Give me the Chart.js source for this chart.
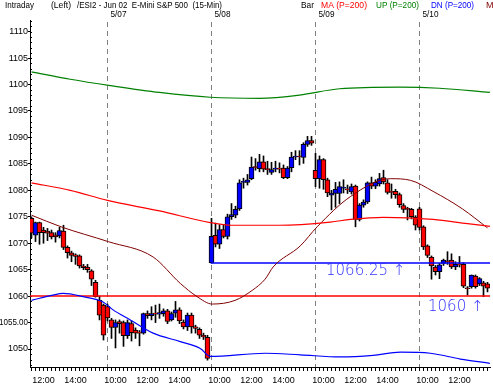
<!DOCTYPE html>
<html>
<head>
<meta charset="utf-8">
<script src="https://cdn.jsdelivr.net/npm/chart.js@4.4.1/dist/chart.umd.min.js"></script>
<style>
  html, body { margin: 0; padding: 0; background: #fff; }
  canvas { display: block; }
</style>
</head>
<body>
<canvas id="chart" width="493" height="387"></canvas>
<script>
// 15-min bars, index 0 = 5/06 11:15 ... 114 = 5/10 14:00
const opens = [
  1074.7, 1071.5, 1073.9, 1072.5, 1072.3, 1072.0, 1071.6, 1071.4, 1072.3, 1069.2, 1068.2, 1067.8, 1067.6, 1065.7, 1065.5, 1064.8, 1062.6, 1059.2, 1058.3,
  1058.0, 1055.5, 1054.1, 1055.2, 1055.0, 1052.5, 1054.8, 1053.6, 1053.2, 1053.0, 1056.7, 1056.3, 1056.8, 1056.6, 1056.7, 1057.2, 1055.5, 1056.8, 1057.4, 1055.1, 1054.2, 1056.4, 1054.2, 1053.7, 1052.6, 1052.2,
  1066.3, 1071.5, 1069.8, 1072.6, 1071.3, 1075.0, 1075.3, 1076.5, 1081.5, 1081.5, 1082.2, 1084.4, 1084.1, 1085.4, 1084.0, 1083.4, 1084.0, 1084.1, 1084.2, 1082.4, 1084.3, 1086.3, 1086.4, 1086.2, 1088.7, 1089.4,
  1083.8, 1082.2, 1085.8, 1082.0, 1079.1, 1079.4, 1079.4, 1080.4, 1080.2, 1079.7, 1080.8, 1074.5, 1077.2, 1077.8, 1081.4, 1080.8, 1081.2, 1082.4, 1081.4, 1079.7, 1079.8, 1079.2, 1077.1, 1076.5, 1076.4, 1074.9,
  1076.5, 1073.1, 1069.5, 1067.4, 1065.5, 1064.6, 1066.2, 1066.6, 1066.8, 1065.5, 1066.0, 1066.0, 1061.5, 1061.8, 1063.8, 1062.3, 1062.5, 1062.3
];
const highs = [
  1075.0, 1074.0, 1074.0, 1073.0, 1072.8, 1072.5, 1072.0, 1073.0, 1073.4, 1069.5, 1068.5, 1068.0, 1067.8, 1066.0, 1066.0, 1065.0, 1063.0, 1060.0, 1058.5,
  1058.5, 1055.8, 1055.5, 1055.5, 1055.3, 1055.5, 1055.3, 1054.0, 1053.5, 1056.8, 1057.2, 1058.0, 1058.3, 1058.5, 1057.6, 1057.5, 1057.0, 1059.0, 1057.8, 1055.5, 1056.8, 1056.8, 1054.5, 1054.0, 1053.0, 1052.6,
  1074.7, 1073.8, 1073.5, 1073.5, 1075.5, 1077.5, 1077.0, 1082.0, 1082.3, 1083.0, 1086.3, 1086.0, 1086.8, 1086.5, 1085.5, 1085.3, 1085.5, 1085.2, 1084.8, 1084.5, 1087.2, 1087.5, 1087.5, 1089.0, 1090.2, 1090.2,
  1087.0, 1086.5, 1086.0, 1082.3, 1080.0, 1081.5, 1081.6, 1082.0, 1081.0, 1081.2, 1081.0, 1077.5, 1078.2, 1081.6, 1082.5, 1082.0, 1083.2, 1083.8, 1082.0, 1081.2, 1080.2, 1079.5, 1077.5, 1076.8, 1076.6, 1075.2,
  1076.8, 1073.3, 1069.7, 1067.6, 1065.8, 1066.2, 1067.0, 1068.4, 1068.0, 1066.5, 1067.5, 1066.3, 1061.8, 1064.0, 1064.0, 1063.5, 1062.8, 1062.6
];
const lows = [
  1071.0, 1070.3, 1069.8, 1070.0, 1070.5, 1070.8, 1070.2, 1071.0, 1068.8, 1067.2, 1066.5, 1066.0, 1065.3, 1065.0, 1064.5, 1062.0, 1059.8, 1055.5, 1051.7,
  1055.3, 1052.0, 1050.2, 1053.0, 1050.5, 1052.0, 1051.5, 1052.0, 1050.6, 1052.8, 1055.8, 1055.5, 1055.0, 1055.8, 1056.2, 1054.8, 1055.3, 1056.0, 1054.8, 1053.8, 1053.5, 1053.0, 1053.0, 1052.0, 1051.8, 1047.9,
  1066.25, 1069.3, 1069.0, 1071.0, 1070.8, 1074.5, 1074.8, 1076.2, 1080.4, 1081.0, 1082.0, 1083.8, 1083.5, 1083.5, 1083.0, 1083.0, 1083.5, 1083.3, 1082.2, 1082.2, 1083.5, 1085.8, 1084.8, 1085.1, 1088.3, 1088.5,
  1080.7, 1080.4, 1080.2, 1078.8, 1076.3, 1076.8, 1077.5, 1079.5, 1079.4, 1079.3, 1073.1, 1074.2, 1076.8, 1077.5, 1080.3, 1080.3, 1080.8, 1081.2, 1079.3, 1078.5, 1078.5, 1076.8, 1075.8, 1074.4, 1074.6, 1072.5,
  1072.5, 1068.8, 1067.3, 1063.2, 1064.0, 1063.3, 1065.8, 1066.0, 1065.2, 1065.0, 1065.5, 1061.6, 1060.2, 1061.5, 1061.5, 1062.0, 1059.9, 1060.8
];
const closes = [
  1071.9, 1073.9, 1072.0, 1072.0, 1071.9, 1071.2, 1071.2, 1072.4, 1069.2, 1068.2, 1067.7, 1067.5, 1065.7, 1065.4, 1065.0, 1063.2, 1059.9, 1056.4, 1052.6,
  1055.9, 1054.1, 1055.0, 1054.8, 1052.5, 1055.0, 1053.1, 1053.0, 1053.0, 1056.7, 1056.3, 1056.7, 1056.6, 1056.9, 1057.2, 1055.2, 1056.7, 1057.4, 1055.3, 1054.2, 1056.4, 1054.2, 1053.9, 1052.6, 1052.3, 1048.2,
  1071.3, 1069.8, 1072.6, 1071.3, 1075.0, 1075.4, 1076.4, 1081.4, 1081.6, 1082.0, 1084.4, 1084.3, 1085.4, 1084.0, 1083.9, 1083.9, 1084.1, 1084.0, 1082.4, 1084.2, 1086.3, 1086.4, 1086.3, 1088.7, 1089.4, 1088.9,
  1082.2, 1085.8, 1082.0, 1079.5, 1079.5, 1080.2, 1080.7, 1080.5, 1080.1, 1080.7, 1074.5, 1077.2, 1077.8, 1081.4, 1080.8, 1081.5, 1082.2, 1081.6, 1079.6, 1079.6, 1079.2, 1077.3, 1076.4, 1076.4, 1075.0, 1073.4,
  1073.0, 1069.3, 1067.7, 1065.7, 1064.6, 1065.9, 1066.8, 1066.5, 1065.5, 1066.0, 1065.9, 1061.9, 1061.4, 1064.0, 1061.8, 1063.3, 1061.9, 1061.5
];

// indicator curves, read at bar positions
const maIdx = [0, 9.7, 19, 32, 44.7, 50, 62, 74.7, 79.7, 88, 100.4, 109, 114.6];
const maVal = [1081.4, 1080.0, 1078.1, 1076.1, 1073.9, 1073.4, 1073.4, 1074.0, 1074.5, 1074.9, 1074.5, 1073.7, 1073.2];
const upIdx = [0, 9.7, 19.7, 32, 44.7, 57, 67, 77, 92, 102, 114.6];
const upVal = [1102.4, 1101.0, 1099.8, 1098.5, 1097.6, 1097.4, 1098.0, 1099.2, 1099.5, 1099.3, 1098.5];
const dnIdx = [0, 5.4, 7.9, 12.9, 17.9, 20.4, 24.7, 30.4, 37.2, 42.2, 44.7, 58.4, 67.2, 77.2, 85.4, 92.2, 99.7, 107.2, 114.6];
const dnVal = [1059.2, 1060.2, 1060.5, 1059.9, 1058.9, 1057.4, 1055.5, 1053.0, 1051.4, 1050.1, 1048.6, 1049.2, 1048.9, 1048.5, 1048.8, 1049.4, 1049.2, 1048.1, 1047.3];
const mIdx = [0, 7.4, 19.2, 30.4, 37.2, 41.4, 45.2, 50.9, 55.2, 58.4, 60.4, 67.2, 71.4, 79.7, 89.7, 94.7, 100.4, 107.7, 114];
const mVal = [1075.3, 1073.1, 1070.3, 1067.4, 1062.4, 1059.9, 1058.5, 1059.2, 1061.1, 1063.2, 1065.5, 1069.5, 1073.1, 1078.8, 1082.2, 1081.9, 1079.8, 1076.5, 1072.9];

const levelValues = [1066.25, 1060];
const levelStart = [44.8, -0.375];

const dayStarts = [19, 45, 71, 97];
const dayNames = ["5/07", "5/08", "5/09", "5/10"];
const timeTicks = [3, 11, 21, 29, 37, 47, 55, 63, 73, 81, 89, 99, 107];
const timeLabels = ["12:00", "14:00", "10:00", "12:00", "14:00", "10:00", "12:00", "14:00", "10:00", "12:00", "14:00", "10:00", "12:00"];
const yTicks = [1050, 1055, 1060, 1065, 1070, 1075, 1080, 1085, 1090, 1095, 1100, 1105, 1110];

const xMin = -0.375, xMax = 114.625;
const smallFont = { family: "Liberation Sans", size: 9 };

const curve = (idx, val) => idx.map((x, i) => ({ x: x, y: val[i] }));

const decor = {
  id: "decor",
  beforeDatasetsDraw(chart) {
    const { ctx, chartArea, scales: { x, y } } = chart;
    ctx.save();
    // day separators
    ctx.strokeStyle = "#808080";
    ctx.lineWidth = 1;
    ctx.setLineDash([5, 4]);
    dayStarts.forEach(d => {
      const px = Math.round(x.getPixelForValue(d) - 0.5) + 0.5;
      ctx.beginPath();
      ctx.moveTo(px, 22);
      ctx.lineTo(px, chartArea.bottom);
      ctx.stroke();
    });
    ctx.setLineDash([]);
    // minor ticks on the price axis
    ctx.strokeStyle = "#000";
    for (let v = 1047; v <= 1112; v++) {
      const py = Math.round(y.getPixelForValue(v)) + 0.5;
      ctx.beginPath();
      ctx.moveTo(chartArea.left, py);
      ctx.lineTo(chartArea.left + 2, py);
      ctx.stroke();
    }
    ctx.restore();
  },
  afterDraw(chart) {
    const { ctx, scales: { x, y } } = chart;
    ctx.save();
    ctx.textBaseline = "middle";
    ctx.font = '9px "Liberation Sans"';
    const header = [
      ["Intraday", 5, 29, "#000"],
      ["(Left)", 51, 20, "#000"],
      ["/ESI2 - Jun 02  E-Mini S&P 500  (15-Min)", 77, 145, "#000"],
      ["Bar", 301, 13, "#000"],
      ["MA (P=200)", 321, 46, "#ff0000"],
      ["UP (P=200)", 376, 43, "#008000"],
      ["DN (P=200)", 431, 43, "#0000ff"],
      ["MA (P=20)", 486, 46, "#800000"]
    ];
    header.forEach(([t, px, w, c]) => {
      ctx.fillStyle = c;
      ctx.fillText(t, px, 6, w);
    });
    ctx.fillStyle = "#000";
    dayStarts.forEach((d, i) => {
      ctx.fillText(dayNames[i], x.getPixelForValue(d) + 3, 15, 16);
    });
    // price axis labels
    ctx.textAlign = "right";
    yTicks.forEach(v => {
      ctx.fillText(v === 1055 ? "1055.00" : String(v), 28, y.getPixelForValue(v), 29);
    });
    ctx.textAlign = "left";
    // level labels
    ctx.fillStyle = "#3030ff";
    ctx.font = '200 15px "DejaVu Sans"';
    ctx.fillText("1066.25 \u2191", 326, y.getPixelForValue(1066.25) + 8);
    ctx.fillText("1060 \u2191", 428, y.getPixelForValue(1060) + 11);
    ctx.restore();
  }
};

new Chart(document.getElementById("chart"), {
  type: "bar",
  data: {
    datasets: [
      {
        type: "line", label: "MA", data: curve(maIdx, maVal),
        borderColor: "#ff0000", borderWidth: 1.2, pointRadius: 0, cubicInterpolationMode: "monotone", order: 1
      },
      {
        type: "line", label: "UP", data: curve(upIdx, upVal),
        borderColor: "#008000", borderWidth: 1.2, pointRadius: 0, cubicInterpolationMode: "monotone", order: 1
      },
      {
        type: "line", label: "DN", data: curve(dnIdx, dnVal),
        borderColor: "#0000ff", borderWidth: 1.2, pointRadius: 0, cubicInterpolationMode: "monotone", order: 1
      },
      {
        type: "line", label: "MA short", data: curve(mIdx, mVal),
        borderColor: "#800000", borderWidth: 1, pointRadius: 0, cubicInterpolationMode: "monotone", order: 1
      },
      {
        type: "line", label: "1066.25", data: [{ x: levelStart[0], y: levelValues[0] }, { x: xMax, y: levelValues[0] }],
        borderColor: "#0000ff", borderWidth: 1.5, pointRadius: 0, order: 1
      },
      {
        type: "line", label: "1060", data: [{ x: levelStart[1], y: levelValues[1] }, { x: xMax, y: levelValues[1] }],
        borderColor: "#ff0000", borderWidth: 1.5, pointRadius: 0, order: 1
      },
      {
        label: "wicks",
        data: highs.map((h, i) => ({ x: i, y: [lows[i], h] })),
        backgroundColor: "#000", barThickness: 1, grouped: false, order: 3
      },
      {
        label: "bodies",
        data: opens.map((o, i) => ({ x: i, y: [o, closes[i]] })),
        backgroundColor: opens.map((o, i) => closes[i] >= o ? "#0000ff" : "#ff0000"),
        borderColor: "#000", borderWidth: 1, borderSkipped: false,
        barThickness: 5, minBarLength: 1, grouped: false, order: 2
      }
    ]
  },
  options: {
    responsive: false,
    animation: false,
    devicePixelRatio: 1,
    events: [],
    layout: { padding: { top: 20, right: 3, left: 0, bottom: 0 } },
    plugins: { legend: { display: false }, tooltip: { enabled: false } },
    scales: {
      x: {
        type: "linear", min: xMin, max: xMax, offset: false,
        afterBuildTicks: s => { s.ticks = opens.map((o, i) => ({ value: i })); },
        afterFit: s => { s.height = 20; },
        ticks: {
          autoSkip: false, maxRotation: 0, padding: 4, color: "#000", font: smallFont,
          callback: v => { const k = timeTicks.indexOf(v); return k >= 0 ? timeLabels[k] : ""; }
        },
        grid: { drawOnChartArea: false, offset: false, tickLength: 4, color: "#000" },
        border: { color: "#000" }
      },
      y: {
        min: 1046.6, max: 1112.2,
        afterBuildTicks: s => { s.ticks = yTicks.map(v => ({ value: v })); },
        afterFit: s => { s.width = 30; },
        ticks: { display: false },
        grid: { drawOnChartArea: false, tickLength: 2, color: "#000" },
        border: { color: "#000" }
      }
    }
  },
  plugins: [decor]
});
</script>
</body>
</html>
